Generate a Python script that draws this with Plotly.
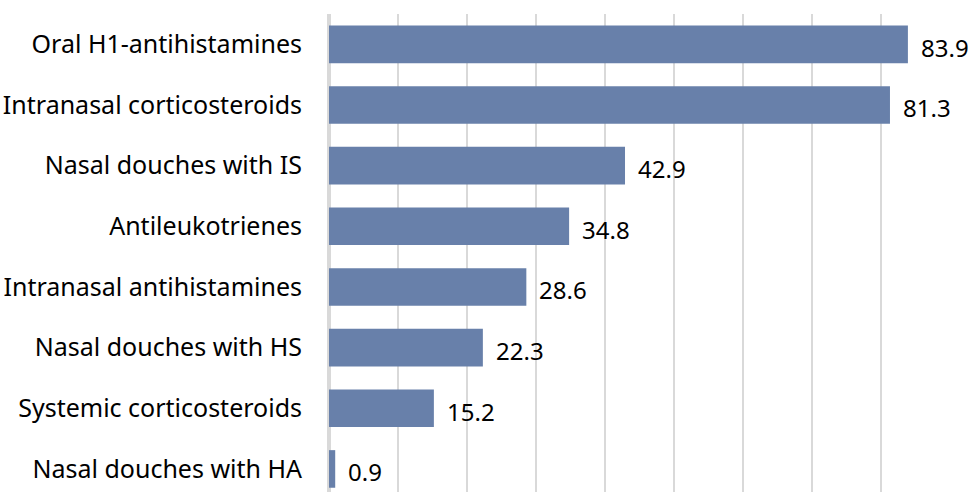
import plotly.graph_objects as go

categories = [
    "Oral H1-antihistamines",
    "Intranasal corticosteroids",
    "Nasal douches with IS",
    "Antileukotrienes",
    "Intranasal antihistamines",
    "Nasal douches with HS",
    "Systemic corticosteroids",
    "Nasal douches with HA",
]
values = [83.9, 81.3, 42.9, 34.8, 28.6, 22.3, 15.2, 0.9]

fig = go.Figure()
fig.add_trace(go.Bar(
    x=values, y=categories, orientation="h",
    marker=dict(color="#6880aa", line=dict(width=0)),
    width=0.62,
    hoverinfo="x+y",
))
for v, c in zip(values, categories):
    fig.add_annotation(x=v, y=c, text=f"{v:.1f}", showarrow=False,
                       xanchor="left", xshift=11, yshift=-3,
                       font=dict(size=24, color="#000000"))

fig.update_layout(
    width=973, height=492,
    margin=dict(l=329, r=23, t=14, b=0),
    paper_bgcolor="white", plot_bgcolor="white",
    font=dict(family="Noto Sans", size=25, color="#000000"),
    showlegend=False,
    xaxis=dict(range=[0, 90], dtick=10, showgrid=True, gridcolor="#d9d9d9", gridwidth=2,
               showticklabels=False, zeroline=True, zerolinecolor="#d9d9d9", zerolinewidth=4,
               fixedrange=True),
    yaxis=dict(categoryorder="array", categoryarray=categories, range=[7.38, -0.5],
               showgrid=False, ticklabelstandoff=26, ticks="", fixedrange=True),
)
fig.write_html(
    "out.html",
    config={"displayModeBar": False},
    post_script="document.body.style.margin='0';document.body.style.overflow='hidden';",
)
